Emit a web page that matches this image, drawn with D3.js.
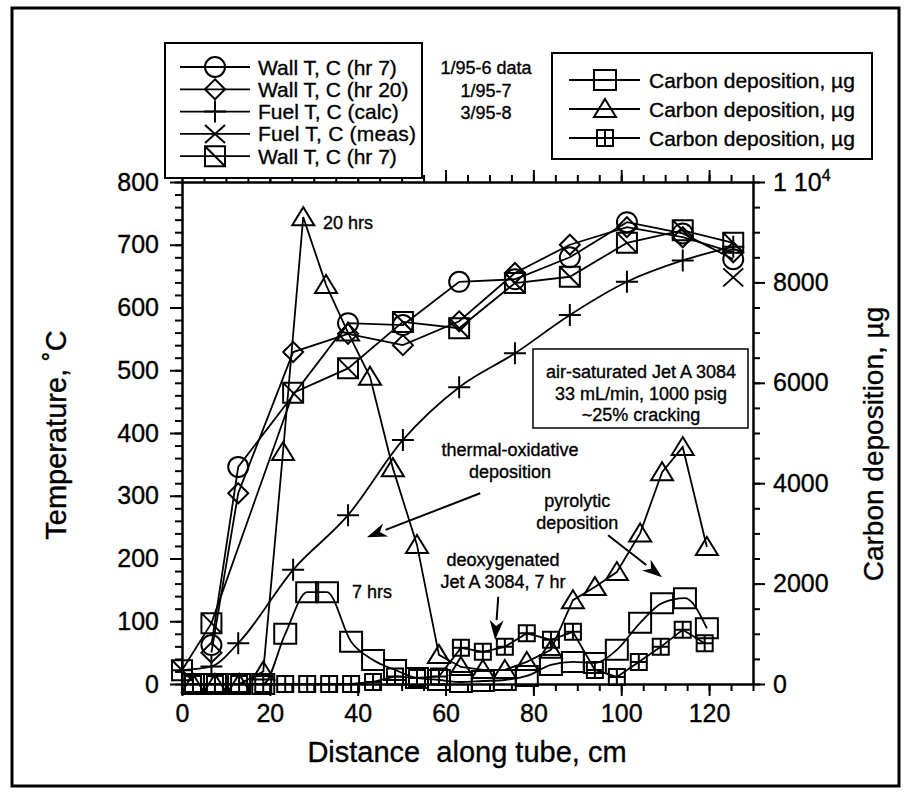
<!DOCTYPE html>
<html>
<head>
<meta charset="utf-8">
<script src="https://cdn.jsdelivr.net/npm/d3@7"></script>
<style>
  html, body { margin: 0; padding: 0; background: #fff; }
  svg { display: block; font-family: "Liberation Sans", Arial, Helvetica, sans-serif; }
  svg text { fill: #000; stroke: #000; stroke-width: 0.35; white-space: pre; }
  .axis path, .axis line { stroke: #000; stroke-width: 2; }
  .axis text { font-size: 25px; }
</style>
</head>
<body>
<div id="app"></div>
<script>
// temperature series (distance in cm, temperature in C)
const wallHr7Dist  = [6.7, 12.8, 37.8, 50.3, 63.1, 75.8, 88.3, 101.3, 114, 125.5];
const wallHr7Temp  = [62, 346, 575, 572, 641, 645, 680, 736, 718, 677];
const wallHr20Dist = [6.7, 12.8, 25.3, 37.8, 50.3, 63.1, 75.8, 88.3, 101.3, 114, 125.5];
const wallHr20Temp = [50, 304, 529, 558, 540, 578, 655, 700, 728, 712, 688];
const fuelCalcDist = [0, 6.7, 12.8, 25.3, 37.8, 50.3, 63.1, 75.8, 88.3, 101.3, 114, 125.5];
const fuelCalcTemp = [22, 28, 65, 182, 269, 389, 473, 527, 588, 641, 675, 697];
const fuelMeasDist = [125.5];
const fuelMeasTemp = [648];
const wall3Dist    = [0, 6.7, 25.3, 37.8, 50.3, 63.1, 75.8, 88.3, 101.3, 114, 125.5];
const wall3Temp    = [22, 97, 464, 503, 577, 567, 639, 649, 703, 723, 703];

// carbon deposition series (distance in cm, carbon in ug)
const carb6Dist = [2.5, 7.5, 13, 18.5, 23.5, 28.5, 33, 38.5, 43.5, 48.5, 53.5, 58.5, 63.5, 68.5, 73.5, 78.5, 84, 89, 94, 99, 104.3, 109.3, 114.5, 119.5];
const carb6Val  = [0, 0, 0, 0, 1000, 1830, 1830, 840, 480, 280, 120, 80, 40, 60, 80, 160, 380, 440, 420, 680, 1220, 1610, 1710, 1110];
const carb7Dist = [2.5, 7.5, 13, 18.5, 23, 27.6, 32.8, 37.8, 42.8, 48, 53.5, 58.5, 63.5, 68.5, 73.5, 78.5, 84, 89, 94, 99, 104.3, 109.3, 114, 119.5];
const carb7Val  = [0, 0, 0, 250, 4620, 9300, 7950, 7000, 6120, 4300, 2770, 580, 340, 280, 280, 440, 680, 1670, 1930, 2230, 3000, 4220, 4720, 2730];
const carb8Dist = [2.5, 7.5, 13, 18.5, 23.5, 28.5, 33.5, 38.5, 43.5, 48.5, 53.5, 58.5, 63.5, 68.5, 73.5, 78.5, 84, 89, 94, 99, 104, 109, 114, 119];
const carb8Val  = [0, 0, 0, 0, 0, 0, 0, 0, 40, 150, 120, 150, 720, 640, 740, 1010, 880, 1040, 280, 140, 440, 740, 1080, 810];

const tempTicks   = d3.range(0, 801, 100);
const carbonTicks = [0, 2000, 4000, 6000, 8000, 10000];
const distTicks   = d3.range(0, 121, 20);

const tempLegend   = ['Wall T, C (hr 7)', 'Wall T, C (hr 20)', 'Fuel T, C (calc)', 'Fuel T, C (meas)', 'Wall T, C (hr 7)'];
const runLabels    = ['1/95-6 data', '1/95-7', '3/95-8'];
const carbonLegend = ['Carbon deposition, \u00b5g', 'Carbon deposition, \u00b5g', 'Carbon deposition, \u00b5g'];
const boxLines     = ['air-saturated Jet A 3084', '33 mL/min, 1000 psig', '~25% cracking'];

const W = 911, H = 796;
const svg = d3.select('#app').append('svg').attr('width', W).attr('height', H);

const x  = d3.scaleLinear().domain([0, 130]).range([182, 753]);
const yT = d3.scaleLinear().domain([0, 800]).range([684, 182]);
const yC = d3.scaleLinear().domain([0, 10000]).range([684, 182]);

// outer frame
svg.append('rect').attr('x', 12).attr('y', 8).attr('width', 887).attr('height', 778)
  .attr('fill', 'none').attr('stroke', '#000').attr('stroke-width', 3);

// axes
const addAxis = (axis, tr) => svg.append('g').attr('class', 'axis').attr('transform', tr).call(axis);

addAxis(d3.axisLeft(yT).tickValues(d3.range(0, 801, 20)).tickSize(7).tickSizeOuter(0).tickFormat(''), `translate(${x(0)},0)`);
addAxis(d3.axisLeft(yT).tickValues(tempTicks).tickSize(12).tickSizeOuter(0).tickPadding(11), `translate(${x(0)},0)`);
addAxis(d3.axisRight(yC).tickValues(d3.range(0, 10001, 500)).tickSize(7).tickSizeOuter(0).tickFormat(''), `translate(${x(130)},0)`);
const rAx = addAxis(d3.axisRight(yC).tickValues(carbonTicks).tickSize(12).tickSizeOuter(0).tickPadding(8)
  .tickFormat(d => d === 10000 ? '' : d), `translate(${x(130)},0)`);
rAx.selectAll('.tick').filter(d => d === 10000).select('text')
  .call(t => {
    t.append('tspan').text('1 10');
    t.append('tspan').attr('dy', -10).attr('font-size', 16).text('4');
  });
addAxis(d3.axisBottom(x).tickValues(d3.range(0, 131, 5)).tickSize(7).tickSizeOuter(0).tickFormat(''), `translate(0,${yT(0)})`);
addAxis(d3.axisBottom(x).tickValues(distTicks).tickSize(12).tickSizeOuter(0).tickPadding(8), `translate(0,${yT(0)})`);
addAxis(d3.axisTop(x).tickValues(d3.range(0, 131, 5)).tickSize(7).tickSizeOuter(0).tickFormat(''), `translate(0,${yT(800)})`);
addAxis(d3.axisTop(x).tickValues(distTicks).tickSize(12).tickSizeOuter(0).tickFormat(''), `translate(0,${yT(800)})`);

// axis titles
svg.append('text').attr('x', 467).attr('y', 762).attr('text-anchor', 'middle')
  .attr('font-size', 29).text('Distance  along tube, cm');
svg.append('text').attr('transform', 'translate(66,435) rotate(-90)').attr('text-anchor', 'middle')
  .attr('font-size', 29).text('Temperature, \u02daC');
svg.append('text').attr('transform', 'translate(883,444) rotate(-90)').attr('text-anchor', 'middle')
  .attr('font-size', 28).text('Carbon deposition, \u00b5g');

// markers
const marker = (g, type, cx, cy) => {
  const s = g.append('g').attr('transform', `translate(${cx},${cy})`)
    .attr('fill', 'none').attr('stroke', '#000').attr('stroke-width', 2);
  if (type === 'circle') s.append('circle').attr('r', 10);
  if (type === 'diamond') s.append('path').attr('d', 'M0,-10L10,0L0,10L-10,0Z');
  if (type === 'plus') s.append('path').attr('d', 'M-11,0H11M0,-11V11');
  if (type === 'cross') s.append('path').attr('d', 'M-10,-9L10,9M-10,9L10,-9');
  if (type === 'squareDiag') s.append('path').attr('d', 'M-10,-10H10V10H-10ZM-10,-10L10,10');
  if (type === 'square') s.append('path').attr('d', 'M-11,-10H11V10H-11Z');
  if (type === 'triangle') s.append('path').attr('d', 'M0,-10L11,8H-11Z');
  if (type === 'squarePlus') s.append('path').attr('d', 'M-8,-8H8V8H-8ZM-8,0H8M0,-8V8');
};

const drawSeries = (xs, ys, yScale, type, curve) => {
  const pts = xs.map((d, i) => [x(d), yScale(ys[i])]);
  const g = svg.append('g');
  g.append('path').attr('d', d3.line().curve(curve || d3.curveLinear)(pts))
    .attr('fill', 'none').attr('stroke', '#000').attr('stroke-width', 1.8);
  pts.forEach(p => marker(g, type, p[0], p[1]));
};

drawSeries(carb8Dist, carb8Val, yC, 'squarePlus');
drawSeries(carb6Dist, carb6Val, yC, 'square', d3.curveMonotoneX);
drawSeries(carb7Dist, carb7Val, yC, 'triangle');
drawSeries(fuelCalcDist, fuelCalcTemp, yT, 'plus', d3.curveMonotoneX);
drawSeries(fuelMeasDist, fuelMeasTemp, yT, 'cross');
drawSeries(wallHr7Dist, wallHr7Temp, yT, 'circle');
drawSeries(wallHr20Dist, wallHr20Temp, yT, 'diamond');
drawSeries(wall3Dist, wall3Temp, yT, 'squareDiag');

// legends
const leg1 = svg.append('g');
leg1.append('rect').attr('x', 165).attr('y', 43).attr('width', 257).attr('height', 135)
  .attr('fill', '#fff').attr('stroke', '#000').attr('stroke-width', 2);
const leg1Types = ['circle', 'diamond', 'plus', 'cross', 'squareDiag'];
tempLegend.forEach((t, i) => {
  const yy = 67 + i * 22.3;
  leg1.append('line').attr('x1', 180).attr('x2', 250).attr('y1', yy).attr('y2', yy)
    .attr('stroke', '#000').attr('stroke-width', 1.8);
  marker(leg1, leg1Types[i], 215, yy);
  leg1.append('text').attr('x', 258).attr('y', yy).attr('dy', '0.36em')
    .attr('font-size', 21).attr('textLength', i === 3 ? 158 : null).text(t);
});

runLabels.forEach((t, i) => {
  svg.append('text').attr('x', 486).attr('y', 68 + i * 22.5).attr('dy', '0.36em')
    .attr('text-anchor', 'middle').attr('font-size', 18).text(t);
});

const leg2 = svg.append('g');
leg2.append('rect').attr('x', 552).attr('y', 53).attr('width', 320).attr('height', 106)
  .attr('fill', '#fff').attr('stroke', '#000').attr('stroke-width', 2);
const leg2Types = ['square', 'triangle', 'squarePlus'];
carbonLegend.forEach((t, i) => {
  const yy = 80 + i * 29;
  leg2.append('line').attr('x1', 569).attr('x2', 640).attr('y1', yy).attr('y2', yy)
    .attr('stroke', '#000').attr('stroke-width', 1.8);
  marker(leg2, leg2Types[i], 605, yy);
  leg2.append('text').attr('x', 649).attr('y', yy).attr('dy', '0.36em')
    .attr('font-size', 21).text(t);
});

// info box
svg.append('rect').attr('x', 533).attr('y', 349).attr('width', 215).attr('height', 79)
  .attr('fill', '#fff').attr('stroke', '#000').attr('stroke-width', 1.5);
boxLines.forEach((t, i) => {
  svg.append('text').attr('x', 641).attr('y', 372 + i * 21.5).attr('dy', '0.36em')
    .attr('text-anchor', 'middle').attr('font-size', 18).text(t);
});

// annotations
const note = (t, cx, ty, anchor) => svg.append('text')
  .attr('x', x(cx)).attr('y', yT(ty)).attr('dy', '0.36em')
  .attr('text-anchor', anchor || 'middle').attr('font-size', 18).text(t);
note('20 hrs', 32.1, 735, 'start');
note('7 hrs', 38.7, 147, 'start');
note('thermal-oxidative', 74.7, 373);
note('deposition', 74.7, 338);
note('pyrolytic', 90, 293);
note('deposition', 90, 257);
note('deoxygenated', 73.1, 198);
note('Jet A 3084, 7 hr', 73.1, 163);

const arrow = (x1, t1, x2, t2) => {
  const ax = x(x1), ay = yT(t1), bx = x(x2), by = yT(t2);
  const ang = Math.atan2(by - ay, bx - ax);
  const len = 20, half = 7;
  const bx0 = bx - len * Math.cos(ang), by0 = by - len * Math.sin(ang);
  svg.append('line').attr('x1', ax).attr('y1', ay).attr('x2', bx0).attr('y2', by0)
    .attr('stroke', '#000').attr('stroke-width', 2);
  const px = -Math.sin(ang) * half, py = Math.cos(ang) * half;
  const nx = bx - 14 * Math.cos(ang), ny = by - 14 * Math.sin(ang);
  svg.append('path')
    .attr('d', `M${bx},${by}L${bx0 + px},${by0 + py}L${nx},${ny}L${bx0 - px},${by0 - py}Z`)
    .attr('fill', '#000');
};
arrow(67.9, 304, 42.1, 234);
arrow(97, 237, 109.3, 170);
arrow(72, 139, 71.3, 70);
</script>
</body>
</html>
